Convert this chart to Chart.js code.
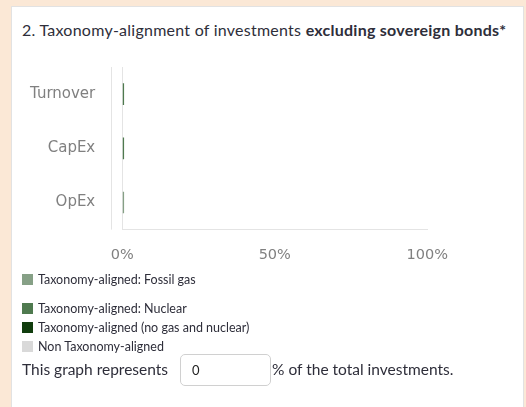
<!DOCTYPE html>
<html>
<head>
<meta charset="utf-8">
<script src="https://cdn.jsdelivr.net/npm/chart.js@4/dist/chart.umd.min.js"></script>
<style>
  html, body { margin: 0; padding: 0; }
  body { width: 526px; height: 407px; background: #fbe8d6; overflow: hidden; font-family: Lato, "Open Sans", sans-serif; color: #2e2e3a; }
  .panel { position: absolute; left: 11px; top: 6px; width: 511px; height: 420px; background: #fff; border: 1px solid #e2e2e2; }
  .title { position: absolute; left: 22px; top: 20px; font-size: 16px; letter-spacing: 0.25px; white-space: nowrap; }
  .title b { font-weight: 700; }
  #myChart { position: absolute; left: 20px; top: 55px; }
  #legend { position: absolute; left: 22px; top: 270px; font-size: 12.5px; }
  #legend div { height: 19px; line-height: 19px; white-space: nowrap; }
  #legend div:first-child { margin-bottom: 10px; }
  #legend span { display: inline-block; width: 11px; height: 11px; margin-right: 5px; vertical-align: -1px; }
  .foot { position: absolute; left: 22px; top: 354px; font-size: 15.5px; white-space: nowrap; line-height: 31px; }
  .foot .box { display: inline-block; width: 78px; height: 30px; border: 1px solid #d0d0d0; border-radius: 5px; padding-left: 11px; margin: 0 1px 0 12px; vertical-align: top; font-size: 13px; color: #222; }
</style>
</head>
<body>
<div class="panel"></div>
<div class="title">2. Taxonomy-alignment of investments <b>excluding sovereign bonds*</b></div>
<canvas id="myChart" width="445" height="226"></canvas>
<div id="legend"></div>
<div class="foot">This graph represents<span class="box">0</span>% of the total investments.</div>
<script>
const categories = ['Turnover', 'CapEx', 'OpEx'];
const xTicks = [0, 50, 100];
const fossilGas = [0, 0, 0.6];
const nuclear = [0.6, 0.6, 0];
const alignedOther = [0, 0, 0];
const nonAligned = [0, 0, 0];
const seriesNames = ['Taxonomy-aligned: Fossil gas', 'Taxonomy-aligned: Nuclear', 'Taxonomy-aligned (no gas and nuclear)', 'Non Taxonomy-aligned'];
const seriesColors = ['#86a086', '#4f7a4f', '#113d0e', '#d9d9d9'];

// line left of the zero line, like the original
const leftRule = {
  id: 'leftRule',
  beforeDatasetsDraw(chart) {
    const a = chart.chartArea, c = chart.ctx;
    c.save();
    c.strokeStyle = '#e4e4e4';
    c.lineWidth = 1;
    c.beginPath();
    c.moveTo(Math.round(a.left) - 10.5, a.top);
    c.lineTo(Math.round(a.left) - 10.5, a.bottom);
    c.stroke();
    c.restore();
  }
};

const values = [fossilGas, nuclear, alignedOther, nonAligned];
var ctx = document.getElementById('myChart').getContext('2d');
const chart = new Chart(ctx, {
  type: 'bar',
  data: {
    labels: categories,
    datasets: values.map((v, i) => ({
      label: seriesNames[i],
      data: v,
      backgroundColor: seriesColors[i],
      barPercentage: 0.5,
      categoryPercentage: 0.8
    }))
  },
  options: {
    indexAxis: 'y',
    responsive: false,
    animation: false,
    layout: { padding: { top: 10, right: 20, left: 7, bottom: 0 } },
    plugins: { legend: { display: false }, tooltip: { enabled: false } },
    scales: {
      x: {
        stacked: true,
        min: 0, max: 100,
        afterBuildTicks: s => { s.ticks = xTicks.map(v => ({ value: v })); },
        ticks: { color: '#808080', font: { family: 'DejaVu Sans', size: 14.5 }, padding: 17, callback: v => v + '%' },
        grid: { color: c => c.tick && c.tick.value === 0 ? '#e4e4e4' : 'transparent', drawTicks: false },
        border: { display: true, color: '#e4e4e4' }
      },
      y: {
        stacked: true,
        ticks: { color: '#808080', font: { family: 'DejaVu Sans', size: 15 }, padding: 3 },
        grid: { drawOnChartArea: false, tickLength: 24, tickColor: 'transparent' },
        border: { display: false }
      }
    }
  },
  plugins: [leftRule]
});

document.getElementById('legend').innerHTML = seriesNames.map((n, i) =>
  '<div><span style="background:' + seriesColors[i] + '"></span>' + n + '</div>').join('');
</script>
</body>
</html>
